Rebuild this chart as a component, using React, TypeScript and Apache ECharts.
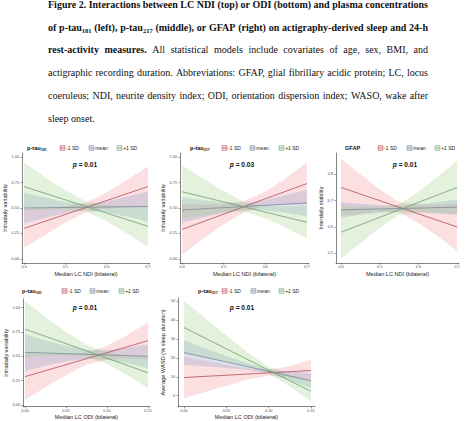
import React, { useEffect, useRef } from 'react';
import * as echarts from 'echarts';

// ---------------- data ----------------
const ndiBandX = [0.4, 0.45, 0.5, 0.55, 0.6, 0.65, 0.7];
const odiBandX = [0, 0.025, 0.05, 0.075, 0.1, 0.125, 0.15];
const ndiFitX = [0.4, 0.7];
const odiFitX = [0, 0.15];

const groupNames = ['-1 SD', 'mean', '+1 SD'];
const ndiTicks = [0.4, 0.5, 0.6, 0.7];
const odiTicks = [0, 0.05, 0.1, 0.15];
const ivTicks = [0, 0.25, 0.5, 0.75, 1];
const isTicks = [0.5, 0.6, 0.7, 0.8];
const wasoTicks = [0, 10, 20, 30, 40, 50];

// Panel 1: p-tau181 x LC NDI -> intradaily variability
const p1MinusFit = [0.3, 0.71];
const p1MeanFit = [0.5, 0.515];
const p1PlusFit = [0.71, 0.32];
const p1MinusLo = [0.11, 0.233, 0.357, 0.455, 0.493, 0.507, 0.51];
const p1MinusHi = [0.49, 0.503, 0.517, 0.555, 0.653, 0.777, 0.91];
const p1MeanLo = [0.35, 0.403, 0.45, 0.478, 0.455, 0.413, 0.37];
const p1MeanHi = [0.65, 0.603, 0.56, 0.538, 0.565, 0.613, 0.66];
const p1PlusLo = [0.47, 0.485, 0.485, 0.465, 0.37, 0.25, 0.12];
const p1PlusHi = [0.95, 0.805, 0.675, 0.565, 0.53, 0.52, 0.52];

// Panel 2: p-tau217 x LC NDI -> intradaily variability
const p2MinusFit = [0.29, 0.74];
const p2MeanFit = [0.48, 0.55];
const p2PlusFit = [0.66, 0.36];
const p2MinusLo = [0.04, 0.195, 0.34, 0.46, 0.52, 0.535, 0.535];
const p2MinusHi = [0.54, 0.535, 0.54, 0.57, 0.66, 0.795, 0.945];
const p2MeanLo = [0.355, 0.407, 0.453, 0.48, 0.477, 0.45, 0.42];
const p2MeanHi = [0.605, 0.577, 0.553, 0.55, 0.577, 0.626, 0.68];
const p2PlusLo = [0.4, 0.43, 0.455, 0.46, 0.4, 0.305, 0.2];
const p2PlusHi = [0.92, 0.79, 0.665, 0.56, 0.52, 0.515, 0.52];

// Panel 3: GFAP x LC NDI -> interdaily stability
const p3MinusFit = [0.75, 0.6];
const p3MeanFit = [0.665, 0.675];
const p3PlusFit = [0.58, 0.75];
const p3MinusLo = [0.642, 0.65, 0.658, 0.655, 0.615, 0.565, 0.51];
const p3MinusHi = [0.858, 0.8, 0.742, 0.695, 0.685, 0.685, 0.69];
const p3MeanLo = [0.635, 0.646, 0.654, 0.658, 0.658, 0.652, 0.645];
const p3MeanHi = [0.695, 0.688, 0.682, 0.682, 0.686, 0.694, 0.705];
const p3PlusLo = [0.48, 0.538, 0.597, 0.645, 0.653, 0.652, 0.65];
const p3PlusHi = [0.68, 0.678, 0.677, 0.685, 0.733, 0.792, 0.85];

// Panel 4: p-tau181 x LC ODI -> intradaily variability
const p4MinusFit = [0.29, 0.66];
const p4MeanFit = [0.54, 0.5];
const p4PlusFit = [0.78, 0.33];
const p4MinusLo = [0.05, 0.182, 0.303, 0.415, 0.467, 0.478, 0.47];
const p4MinusHi = [0.53, 0.522, 0.523, 0.535, 0.607, 0.718, 0.85];
const p4MeanLo = [0.35, 0.403, 0.447, 0.475, 0.463, 0.427, 0.38];
const p4MeanHi = [0.73, 0.663, 0.607, 0.565, 0.563, 0.587, 0.62];
const p4PlusLo = [0.49, 0.505, 0.51, 0.495, 0.42, 0.305, 0.17];
const p4PlusHi = [1.07, 0.905, 0.75, 0.615, 0.54, 0.505, 0.49];

// Panel 5: p-tau217 x LC ODI -> WASO
const p5MinusFit = [9.6, 13.3];
const p5MeanFit = [22.8, 7.9];
const p5PlusFit = [36, 2.3];
const p5MinusLo = [-1.4, 1.9, 5.2, 8.5, 10.5, 9.7, 7.6];
const p5MinusHi = [20.6, 18.5, 16.4, 14.5, 13.7, 15.7, 19.0];
const p5MeanLo = [16.3, 15.5, 14.6, 13.6, 11.7, 8.0, 3.9];
const p5MeanHi = [29.3, 25.1, 21.0, 17.2, 14.1, 12.8, 11.9];
const p5PlusLo = [22, 19.9, 17.8, 15.6, 11.7, 4.7, -3.0];
const p5PlusHi = [50, 40.9, 31.8, 22.8, 15.3, 11.1, 7.6];

const pValues = ['0.01', '0.03', '0.01', '0.01', '0.01'];

// ---------------- styles ----------------
const SANS = '"Liberation Sans", Arial, sans-serif';
const SERIF = '"Liberation Serif", "Times New Roman", serif';
const lineColors = ['#b04f5c', '#7c8a9b', '#6f9e6f'];
const bandColors = ['rgba(240,135,145,0.27)', 'rgba(125,150,195,0.27)', 'rgba(150,205,130,0.27)'];
const keyFill = ['#f6d3d7', '#d6dde9', '#dcedd5'];

type Seg = [string, string];
type PanelCfg = {
  grid: [number, number, number, number];
  xMin: number; xMax: number; xTicks: number[]; xDec: number; xName: string; xGap: number;
  yMin: number; yMax: number; yTicks: number[]; yDec: number; yName: string; yGap: number;
  bandX: number[]; fitX: number[];
  fits: number[][]; los: number[][]; his: number[][];
  title: Seg[]; titleX: number; keyX: number[]; legY: number; pX: number; pY: number;
};

const panels: PanelCfg[] = [
  {
    grid: [22, 153, 128, 110], xMin: 0.395, xMax: 0.705, xTicks: ndiTicks, xDec: 1, xName: 'Median LC NDI (bilateral)', xGap: 8,
    yMin: -0.04, yMax: 1.04, yTicks: ivTicks, yDec: 2, yName: 'Intradaily variability', yGap: 14,
    bandX: ndiBandX, fitX: ndiFitX,
    fits: [p1MinusFit, p1MeanFit, p1PlusFit], los: [p1MinusLo, p1MeanLo, p1PlusLo], his: [p1MinusHi, p1MeanHi, p1PlusHi],
    title: [['p-tau', 'b'], ['181', 's']], titleX: 27, keyX: [60, 89, 117], legY: 148, pX: 85, pY: 164,
  },
  {
    grid: [180, 153, 129, 110], xMin: 0.395, xMax: 0.705, xTicks: ndiTicks, xDec: 1, xName: 'Median LC NDI (bilateral)', xGap: 8,
    yMin: -0.04, yMax: 1.04, yTicks: ivTicks, yDec: 2, yName: 'Intradaily variability', yGap: 14,
    bandX: ndiBandX, fitX: ndiFitX,
    fits: [p2MinusFit, p2MeanFit, p2PlusFit], los: [p2MinusLo, p2MeanLo, p2PlusLo], his: [p2MinusHi, p2MeanHi, p2PlusHi],
    title: [['p-tau', 'b'], ['217', 's']], titleX: 190, keyX: [222, 250, 279], legY: 148, pX: 242, pY: 164,
  },
  {
    grid: [336, 153, 123, 110], xMin: 0.387, xMax: 0.705, xTicks: ndiTicks, xDec: 1, xName: 'Median LC NDI (bilateral)', xGap: 8,
    yMin: 0.463, yMax: 0.881, yTicks: isTicks, yDec: 1, yName: 'Interdaily stability', yGap: 12,
    bandX: ndiBandX, fitX: ndiFitX,
    fits: [p3MinusFit, p3MeanFit, p3PlusFit], los: [p3MinusLo, p3MeanLo, p3PlusLo], his: [p3MinusHi, p3MeanHi, p3PlusHi],
    title: [['GFAP', 'b']], titleX: 345, keyX: [378, 407, 435], legY: 148, pX: 405, pY: 164,
  },
  {
    grid: [23, 299, 127, 108], xMin: -0.0025, xMax: 0.1525, xTicks: odiTicks, xDec: 2, xName: 'Median LC ODI (bilateral)', xGap: 5,
    yMin: -0.02, yMax: 1.09, yTicks: ivTicks, yDec: 2, yName: 'Intradaily variability', yGap: 14,
    bandX: odiBandX, fitX: odiFitX,
    fits: [p4MinusFit, p4MeanFit, p4PlusFit], los: [p4MinusLo, p4MeanLo, p4PlusLo], his: [p4MinusHi, p4MeanHi, p4PlusHi],
    title: [['p-tau', 'b'], ['181', 's']], titleX: 22, keyX: [62, 90, 119], legY: 291, pX: 85, pY: 307,
  },
  {
    grid: [178, 298, 137, 109], xMin: -0.0071, xMax: 0.1547, xTicks: odiTicks, xDec: 2, xName: 'Median LC ODI (bilateral)', xGap: 6,
    yMin: -5.8, yMax: 51.6, yTicks: wasoTicks, yDec: 0, yName: 'Average WASO (% sleep duration)', yGap: 12,
    bandX: odiBandX, fitX: odiFitX,
    fits: [p5MinusFit, p5MeanFit, p5PlusFit], los: [p5MinusLo, p5MeanLo, p5PlusLo], his: [p5MinusHi, p5MeanHi, p5PlusHi],
    title: [['p-tau', 'b'], ['217', 's']], titleX: 198, keyX: [222, 251, 279], legY: 291, pX: 242, pY: 307,
  },
];

// ---------------- caption ----------------
const captionLines: { segs: Seg[]; justify: boolean }[] = [
  { segs: [['Figure 2. Interactions between LC NDI (top) or ODI (bottom) and plasma concentrations', 'b']], justify: true },
  { segs: [['of p-tau', 'b'], ['181', 'bs'], [' (left), p-tau', 'b'], ['217', 'bs'], [' (middle), or GFAP (right) on actigraphy-derived sleep and 24-h', 'b']], justify: true },
  { segs: [['rest-activity measures.', 'b'], [' All statistical models include covariates of age, sex, BMI, and', 'r']], justify: true },
  { segs: [['actigraphic recording duration. Abbreviations: GFAP, glial fibrillary acidic protein; LC, locus', 'r']], justify: true },
  { segs: [['coeruleus; NDI, neurite density index; ODI, orientation dispersion index; WASO, wake after', 'r']], justify: true },
  { segs: [['sleep onset.', 'r']], justify: false },
];
const capLeft = 48;
const capRight = 428;
const capBaselines = [9.5, 32.2, 54.9, 77.6, 100.3, 123];

const capStyle: Record<string, { weight: string; size: number; dy: number }> = {
  b: { weight: 'bold', size: 10, dy: 0 },
  bs: { weight: 'bold', size: 6.5, dy: 2.2 },
  r: { weight: 'normal', size: 10, dy: 0 },
};

function buildCaption(): any[] {
  const canvas = document.createElement('canvas');
  const ctx = canvas.getContext('2d') as CanvasRenderingContext2D;
  const fontOf = (k: string) => `${capStyle[k].weight} ${capStyle[k].size}px ${SERIF}`;
  const measure = (t: string, k: string) => {
    ctx.font = fontOf(k);
    return ctx.measureText(t).width;
  };
  const els: any[] = [];
  captionLines.forEach((line, li) => {
    const words: Seg[][] = [];
    let cur: Seg[] = [];
    line.segs.forEach(([text, k]) => {
      const parts = text.split(' ');
      parts.forEach((p, pi) => {
        if (pi > 0) {
          if (cur.length) words.push(cur);
          cur = [];
        }
        if (p.length) cur.push([p, k]);
      });
    });
    if (cur.length) words.push(cur);
    const widths = words.map((w) => w.reduce((s, [t, k]) => s + measure(t, k), 0));
    const total = widths.reduce((a, b) => a + b, 0);
    const normalSpace = measure(' ', 'r');
    const gap = line.justify && words.length > 1 ? (capRight - capLeft - total) / (words.length - 1) : normalSpace;
    let x = capLeft;
    const base = capBaselines[li];
    words.forEach((w, wi) => {
      let sx = x;
      w.forEach(([t, k]) => {
        els.push({
          type: 'text',
          x: sx,
          y: base + capStyle[k].dy,
          silent: true,
          style: {
            text: t,
            font: fontOf(k),
            fill: '#111',
            textAlign: 'left',
            textVerticalAlign: 'bottom',
          },
        });
        sx += measure(t, k);
      });
      x += widths[wi] + gap;
    });
  });
  return els;
}

// ---------------- legends / p values ----------------
function buildPanelGraphics(): any[] {
  const canvas = document.createElement('canvas');
  const ctx = canvas.getContext('2d') as CanvasRenderingContext2D;
  const els: any[] = [];
  panels.forEach((p, pi) => {
    let x = p.titleX;
    p.title.forEach(([t, k]) => {
      const size = k === 's' ? 3.6 : 5.6;
      const font = `bold ${size}px ${SANS}`;
      els.push({
        type: 'text', x, y: p.legY + (k === 's' ? 1.6 : 0), silent: true,
        style: { text: t, font, fill: '#111', textAlign: 'left', textVerticalAlign: 'middle' },
      });
      ctx.font = font;
      x += ctx.measureText(t).width;
    });
    groupNames.forEach((g, gi) => {
      const kx = p.keyX[gi];
      els.push({
        type: 'rect', silent: true,
        shape: { x: kx, y: p.legY - 2.4, width: 5, height: 4.8 },
        style: { fill: keyFill[gi], stroke: lineColors[gi], lineWidth: 0.5 },
      });
      els.push({
        type: 'line', silent: true,
        shape: { x1: kx, y1: p.legY, x2: kx + 5, y2: p.legY },
        style: { stroke: lineColors[gi], lineWidth: 0.6 },
      });
      els.push({
        type: 'text', x: kx + 6.2, y: p.legY, silent: true,
        style: { text: g, font: `normal 5px ${SANS}`, fill: '#222', textAlign: 'left', textVerticalAlign: 'middle' },
      });
    });
    els.push({
      type: 'text', x: p.pX, y: p.pY, silent: true,
      style: {
        text: `{i|p}{b| = ${pValues[pi]}}`,
        textAlign: 'center', textVerticalAlign: 'middle',
        rich: {
          i: { fontFamily: 'Liberation Sans', fontSize: 6.6, fontWeight: 'bold', fontStyle: 'italic', fill: '#111' },
          b: { fontFamily: 'Liberation Sans', fontSize: 6.6, fontWeight: 'bold', fill: '#111' },
        },
      },
    });
  });
  return els;
}

// ---------------- option ----------------
function buildOption(): any {
  const grid = panels.map((p) => ({ left: p.grid[0], top: p.grid[1], width: p.grid[2], height: p.grid[3] }));
  const axisCommon = {
    type: 'value',
    splitLine: { show: false },
    axisLine: { show: true, onZero: false, lineStyle: { color: '#333', width: 0.6 } },
    nameLocation: 'middle',
    nameTextStyle: { fontFamily: SANS, fontSize: 5.6, color: '#222' },
  };
  const xAxis = panels.map((p, i) => ({
    ...axisCommon,
    gridIndex: i,
    min: p.xMin,
    max: p.xMax,
    name: p.xName,
    nameGap: p.xGap,
    axisTick: { show: true, length: 1.6, customValues: p.xTicks, lineStyle: { color: '#333', width: 0.5 } },
    axisLabel: {
      show: true, customValues: p.xTicks, margin: 2.4, fontSize: 3.8, color: '#4d4d4d', fontFamily: SANS,
      formatter: (v: number) => v.toFixed(p.xDec),
    },
  }));
  const yAxis = panels.map((p, i) => ({
    ...axisCommon,
    gridIndex: i,
    min: p.yMin,
    max: p.yMax,
    name: p.yName,
    nameGap: p.yGap,
    axisTick: { show: true, length: 1.6, customValues: p.yTicks, lineStyle: { color: '#333', width: 0.5 } },
    axisLabel: {
      show: true, customValues: p.yTicks, margin: 3, fontSize: 3.8, color: '#4d4d4d', fontFamily: SANS,
      formatter: (v: number) => v.toFixed(p.yDec),
    },
  }));
  const series: any[] = [];
  panels.forEach((p, i) => {
    [0, 1, 2].forEach((g) => {
      const bandData = p.bandX.map((x, k) => [x, p.los[g][k], p.his[g][k]]);
      series.push({
        type: 'custom',
        name: groupNames[g],
        xAxisIndex: i,
        yAxisIndex: i,
        silent: true,
        z: 1,
        encode: { x: 0, y: [1, 2] },
        data: bandData,
        renderItem: (params: any, api: any) => {
          if (params.dataIndex !== 0) return null;
          const upper = bandData.map((d) => api.coord([d[0], d[2]]));
          const lower = bandData.map((d) => api.coord([d[0], d[1]])).reverse();
          return {
            type: 'polygon',
            shape: { points: upper.concat(lower) },
            style: { fill: bandColors[g], stroke: 'none' },
          };
        },
      });
    });
    [0, 1, 2].forEach((g) => {
      series.push({
        type: 'line', name: groupNames[g], xAxisIndex: i, yAxisIndex: i,
        data: p.fitX.map((x, k) => [x, p.fits[g][k]]),
        symbol: 'none', lineStyle: { width: 0.8, color: lineColors[g] }, silent: true, z: 3,
      });
    });
  });
  return {
    animation: false,
    backgroundColor: '#ffffff',
    textStyle: { fontFamily: SANS },
    grid,
    xAxis,
    yAxis,
    series,
    graphic: { elements: [...buildCaption(), ...buildPanelGraphics()] },
  };
}

export default function App() {
  const ref = useRef<HTMLDivElement>(null);
  useEffect(() => {
    if (!ref.current) return;
    const chart = echarts.init(ref.current, null, { renderer: 'svg' });
    chart.setOption(buildOption());
    return () => chart.dispose();
  }, []);
  return (
    <div
      ref={ref}
      style={{ position: 'absolute', left: 0, top: 0, width: 474, height: 421, background: '#fff' }}
    />
  );
}
